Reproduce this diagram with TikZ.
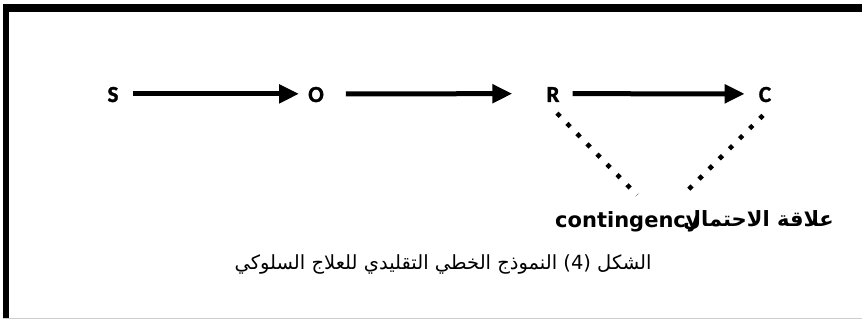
\documentclass[tikz,border=0pt]{standalone}
\usepackage{fontspec}
\usetikzlibrary{arrows.meta}
\TeXXeTstate=1
\newfontfamily\letterfont{Carlito}[BoldFont={Carlito Bold},FakeBold=1.5]
\newfontfamily\labelfont{DejaVu Sans}
\newfontfamily\arabicfont[Script=Arabic]{DejaVu Sans}
\begin{document}
\begin{tikzpicture}[x=1pt,y=-1pt,
  letter/.style={inner sep=0pt,anchor=base,font=\letterfont\bfseries\fontsize{23}{23}\selectfont},
  arr/.style={line width=5pt,-{Triangle[length=20pt,width=18pt]}},
  dotline/.style={line width=4.5pt,dash pattern=on 4.5pt off 9.8pt},
  txt/.style={inner sep=0pt,anchor=base}]
  \useasboundingbox (0,0) rectangle (862,320);
  % frame: heavy top and left edges, thin grey bottom edge
  \fill[black] (3,4) rectangle (862,12);
  \fill[black] (3,4) rectangle (9,318);
  \draw[gray!40,line width=1pt] (3,318.5) -- (862,318.5);
  % the four terms of the chain
  \node[letter] (S) at (113,102) {S};
  \node[letter] (O) at (316,102) {O};
  \node[letter] (R) at (553,102) {R};
  \node[letter] (C) at (765,102) {C};
  \draw[arr] ([xshift=14pt,yshift=8.5pt]S.south east) -- ([xshift=-9pt,yshift=8.5pt]O.south west);
  \draw[arr] ([xshift=22pt,yshift=8.5pt]O.south east) -- ([xshift=-34pt,yshift=8.5pt]R.south west);
  \draw[arr] ([xshift=13pt,yshift=8.5pt]R.south east) -- ([xshift=-14pt,yshift=8.5pt]C.south west);
  % contingency label, set against its Arabic name
  \node[txt,anchor=base west,font=\labelfont\bfseries\fontsize{21}{21}\selectfont] (cont) at (555,228) {contingency};
  \node[txt,anchor=base east,font=\arabicfont\bfseries\fontsize{21}{21}\selectfont] (rel) at (834,227) {\beginR علاقة الاحتمال\endR};
  \coordinate (cl) at (637,195);
  \coordinate (cr) at (683,195);
  \draw[dotline] ([xshift=4pt,yshift=-11pt]R.south) -- (cl);
  \draw[dotline] ([xshift=-2pt,yshift=-13pt]C.south) -- (cr);
  % caption
  \node[txt,font=\arabicfont\fontsize{19.5}{19.5}\selectfont] (cap) at (443,270) {\beginR الشكل \beginL(4)\endL{} النموذج الخطي التقليدي للعلاج السلوكي\endR};
\end{tikzpicture}
\end{document}
